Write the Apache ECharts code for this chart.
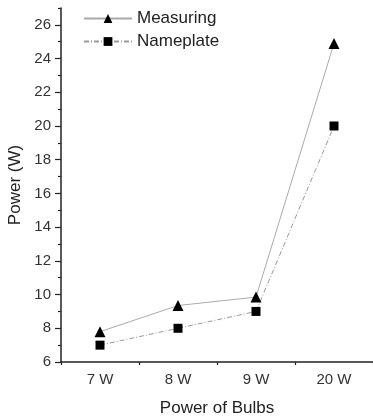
<!DOCTYPE html>
<html>
<head>
<meta charset="utf-8">
<script src="https://cdn.jsdelivr.net/npm/echarts@6/dist/echarts.min.js"></script>
<style>html,body{margin:0;padding:0;background:#fff}#c{width:373px;height:419px}</style>
</head>
<body>
<div id="c"></div>
<script>
var categories = ['7 W', '8 W', '9 W', '20 W'];
var measuring = [7.8, 9.35, 9.85, 24.9];
var nameplate = [7.0, 8.0, 9.0, 20.0];
var yMajorTicks = [6, 8, 10, 12, 14, 16, 18, 20, 22, 24, 26];
var yMinorTicks = [7, 9, 11, 13, 15, 17, 19, 21, 23, 25, 27];

var font = 'Liberation Sans, Arial, sans-serif';
var chart = echarts.init(document.getElementById('c'));
chart.setOption({
  animation: false,
  textStyle: { fontFamily: font },
  grid: { left: 61, right: 0, top: 8, bottom: 57, containLabel: false, outerBoundsMode: 'none' },
  legend: {
    orient: 'vertical', left: 83, top: 10, padding: 0, itemWidth: 48, itemHeight: 11, itemGap: 6,
    textStyle: { fontFamily: font, fontSize: 17, color: '#222' },
    data: ['Measuring', 'Nameplate']
  },
  xAxis: [{
    type: 'category', data: categories, boundaryGap: true,
    name: 'Power of Bulbs', nameLocation: 'middle', nameGap: 38,
    nameTextStyle: { fontFamily: font, fontSize: 17, color: '#222' },
    axisLine: { lineStyle: { color: '#222', width: 1.5 } },
    axisTick: { alignWithLabel: true, length: 5, lineStyle: { color: '#222', width: 1.2 } },
    axisLabel: { fontFamily: font, fontSize: 15, color: '#333', margin: 10 },
    splitLine: { show: false }
  }, {
    type: 'category', data: categories, boundaryGap: true, position: 'bottom',
    axisLine: { show: false },
    axisTick: { show: true, length: 3, lineStyle: { color: '#222', width: 1.2 } },
    axisLabel: { show: false }, splitLine: { show: false }
  }],
  yAxis: [{
    type: 'value', min: 6, max: 27, interval: 2,
    name: 'Power (W)', nameLocation: 'middle', nameGap: 30,
    nameTextStyle: { fontFamily: font, fontSize: 17, color: '#222' },
    axisLine: { show: true, lineStyle: { color: '#222', width: 1.5 } },
    axisTick: { show: true, length: 6, customValues: yMajorTicks, lineStyle: { color: '#222', width: 1.2 } },
    axisLabel: { fontFamily: font, fontSize: 15, color: '#333', margin: 10, customValues: yMajorTicks },
    splitLine: { show: false }
  }, {
    type: 'value', min: 6, max: 27, interval: 1, position: 'left',
    axisLine: { show: false },
    axisTick: { show: true, length: 3, customValues: yMinorTicks, lineStyle: { color: '#222', width: 1.2 } },
    axisLabel: { show: false }, splitLine: { show: false }
  }],
  series: [{
    name: 'Measuring', type: 'line', data: measuring,
    symbol: 'triangle', symbolSize: 11,
    itemStyle: { color: '#000' },
    lineStyle: { color: '#aaa', width: 1 }
  }, {
    name: 'Nameplate', type: 'line', data: nameplate,
    symbol: 'rect', symbolSize: 9,
    itemStyle: { color: '#000' },
    lineStyle: { color: '#999', width: 1, type: [5, 2, 1, 2] }
  }]
});
</script>
</body>
</html>
